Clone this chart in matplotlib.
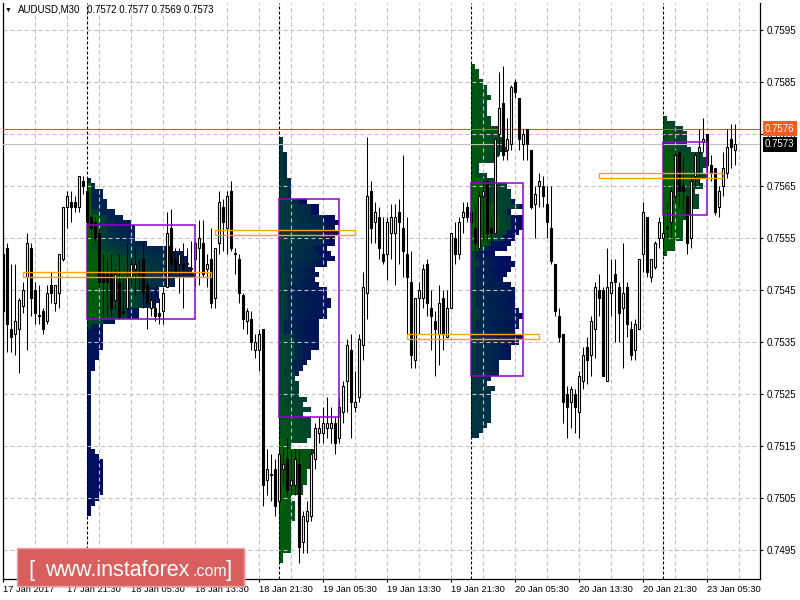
import matplotlib
matplotlib.use('Agg')
import matplotlib.pyplot as plt
import matplotlib.transforms as mtransforms
import numpy as np
from matplotlib.colors import LinearSegmentedColormap
from matplotlib.patches import Rectangle

plt.rcParams['font.family'] = ['Liberation Sans', 'DejaVu Sans']

SYMBOL = 'AUDUSD,M30'
LAST_OHLC = '0.7572 0.7577 0.7569 0.7573'
PIP = 0.0001
BID = 0.7573
ASK = 0.7576

# M30 bars, first one is 17 Jan 13:30
open_ = [
    0.75520, 0.75530, 0.75375, 0.75365, 0.75375, 0.75420, 0.75475, 0.75530,
    0.75450, 0.75400, 0.75410, 0.75390, 0.75460, 0.75425, 0.75445, 0.75510,
    0.75610, 0.75620, 0.75620, 0.75610, 0.75660, 0.75640, 0.75590, 0.75580,
    0.75560, 0.75480, 0.75480, 0.75480, 0.75430, 0.75465, 0.75410, 0.75415,
    0.75475, 0.75490, 0.75480, 0.75510, 0.75460, 0.75415, 0.75415, 0.75405,
    0.75410, 0.75455, 0.75570, 0.75510, 0.75500, 0.75500, 0.75500, 0.75490,
    0.75510, 0.75530, 0.75540, 0.75490, 0.75510, 0.75435, 0.75540, 0.75610,
    0.75570, 0.75640, 0.75520, 0.75510, 0.75440, 0.75390, 0.75395, 0.75335,
    0.75335, 0.75375, 0.75085, 0.75095, 0.75105, 0.75045, 0.75105, 0.75125,
    0.75075, 0.75075, 0.75115, 0.74965, 0.75005, 0.75015, 0.75125, 0.75175,
    0.75175, 0.75185, 0.75185, 0.75195, 0.75165, 0.75215, 0.75275, 0.75335,
    0.75225, 0.75245, 0.75345, 0.75445, 0.75640, 0.75580, 0.75590, 0.75520,
    0.75520, 0.75560, 0.75560, 0.75600, 0.75570, 0.75520, 0.75465, 0.75315,
    0.75435, 0.75435, 0.75500, 0.75415, 0.75390, 0.75365, 0.75435, 0.75360,
    0.75415, 0.75550, 0.75520, 0.75590, 0.75610, 0.75600, 0.75570, 0.75530,
    0.75630, 0.75660, 0.75570, 0.75560, 0.75750, 0.75810, 0.75720, 0.75730,
    0.75850, 0.75820, 0.75730, 0.75760, 0.75720, 0.75615, 0.75650, 0.75650,
    0.75615, 0.75570, 0.75500, 0.75400, 0.75365, 0.75250, 0.75235, 0.75250,
    0.75215, 0.75275, 0.75340, 0.75325, 0.75375, 0.75450, 0.75450, 0.75275,
    0.75445, 0.75480, 0.75455, 0.75415, 0.75455, 0.75375, 0.75335, 0.75375,
    0.75520, 0.75590, 0.75475, 0.75495, 0.75550, 0.75550, 0.75570, 0.75580,
    0.75630, 0.75715, 0.75650, 0.75630, 0.75550, 0.75670, 0.75715, 0.75735,
    0.75750, 0.75690, 0.75685, 0.75610, 0.75650, 0.75675, 0.75740, 0.75720,
]
high_ = [
    0.75570, 0.75540, 0.75500, 0.75500, 0.75435, 0.75465, 0.75560, 0.75540,
    0.75465, 0.75460, 0.75415, 0.75460, 0.75485, 0.75460, 0.75520, 0.75610,
    0.75640, 0.75640, 0.75630, 0.75670, 0.75670, 0.75655, 0.75595, 0.75590,
    0.75570, 0.75520, 0.75510, 0.75520, 0.75490, 0.75520, 0.75480, 0.75540,
    0.75510, 0.75530, 0.75510, 0.75540, 0.75470, 0.75445, 0.75455, 0.75435,
    0.75455, 0.75600, 0.75605, 0.75530, 0.75530, 0.75540, 0.75530, 0.75545,
    0.75545, 0.75585, 0.75585, 0.75520, 0.75570, 0.75530, 0.75640, 0.75625,
    0.75640, 0.75660, 0.75530, 0.75520, 0.75445, 0.75415, 0.75410, 0.75365,
    0.75375, 0.75375, 0.75145, 0.75135, 0.75125, 0.75145, 0.75145, 0.75165,
    0.75145, 0.75145, 0.75145, 0.75025, 0.75045, 0.75145, 0.75195, 0.75205,
    0.75225, 0.75245, 0.75225, 0.75205, 0.75245, 0.75275, 0.75355, 0.75365,
    0.75295, 0.75365, 0.75485, 0.75745, 0.75660, 0.75620, 0.75610, 0.75590,
    0.75590, 0.75615, 0.75615, 0.75625, 0.75710, 0.75590, 0.75525, 0.75435,
    0.75465, 0.75500, 0.75510, 0.75450, 0.75410, 0.75460, 0.75450, 0.75450,
    0.75560, 0.75580, 0.75590, 0.75620, 0.75620, 0.75610, 0.75615, 0.75640,
    0.75665, 0.75660, 0.75590, 0.75740, 0.75870, 0.75880, 0.75780, 0.75845,
    0.75855, 0.75820, 0.75760, 0.75760, 0.75720, 0.75650, 0.75675, 0.75670,
    0.75650, 0.75650, 0.75500, 0.75415, 0.75365, 0.75265, 0.75265, 0.75260,
    0.75295, 0.75340, 0.75360, 0.75400, 0.75465, 0.75480, 0.75455, 0.75530,
    0.75510, 0.75510, 0.75465, 0.75540, 0.75465, 0.75390, 0.75395, 0.75510,
    0.75620, 0.75590, 0.75510, 0.75545, 0.75590, 0.75610, 0.75620, 0.75650,
    0.75720, 0.75715, 0.75705, 0.75630, 0.75670, 0.75715, 0.75760, 0.75780,
    0.75750, 0.75710, 0.75685, 0.75650, 0.75715, 0.75760, 0.75770, 0.75770,
]
low_ = [
    0.75380, 0.75330, 0.75330, 0.75325, 0.75290, 0.75405, 0.75335, 0.75400,
    0.75385, 0.75385, 0.75365, 0.75385, 0.75425, 0.75410, 0.75415, 0.75505,
    0.75570, 0.75580, 0.75600, 0.75600, 0.75635, 0.75575, 0.75550, 0.75545,
    0.75455, 0.75400, 0.75400, 0.75400, 0.75415, 0.75395, 0.75400, 0.75415,
    0.75460, 0.75440, 0.75450, 0.75415, 0.75375, 0.75400, 0.75390, 0.75385,
    0.75385, 0.75455, 0.75480, 0.75480, 0.75445, 0.75415, 0.75480, 0.75480,
    0.75455, 0.75460, 0.75475, 0.75455, 0.75415, 0.75415, 0.75520, 0.75525,
    0.75520, 0.75525, 0.75480, 0.75425, 0.75375, 0.75365, 0.75335, 0.75320,
    0.75295, 0.75035, 0.75055, 0.75045, 0.75015, 0.75025, 0.75075, 0.75055,
    0.75055, 0.75055, 0.74925, 0.74945, 0.74945, 0.75005, 0.75105, 0.75155,
    0.75155, 0.75165, 0.75155, 0.75135, 0.75155, 0.75195, 0.75215, 0.75165,
    0.75215, 0.75235, 0.75315, 0.75395, 0.75540, 0.75540, 0.75510, 0.75500,
    0.75470, 0.75510, 0.75460, 0.75500, 0.75475, 0.75365, 0.75300, 0.75300,
    0.75365, 0.75415, 0.75400, 0.75335, 0.75285, 0.75305, 0.75335, 0.75360,
    0.75415, 0.75500, 0.75510, 0.75560, 0.75580, 0.75570, 0.75525, 0.75525,
    0.75540, 0.75545, 0.75535, 0.75560, 0.75710, 0.75700, 0.75700, 0.75720,
    0.75820, 0.75720, 0.75700, 0.75700, 0.75605, 0.75550, 0.75610, 0.75610,
    0.75550, 0.75500, 0.75400, 0.75350, 0.75195, 0.75165, 0.75185, 0.75175,
    0.75165, 0.75260, 0.75270, 0.75285, 0.75320, 0.75400, 0.75285, 0.75275,
    0.75400, 0.75350, 0.75350, 0.75300, 0.75360, 0.75315, 0.75315, 0.75375,
    0.75485, 0.75475, 0.75465, 0.75490, 0.75530, 0.75530, 0.75550, 0.75550,
    0.75620, 0.75610, 0.75605, 0.75520, 0.75530, 0.75650, 0.75650, 0.75715,
    0.75665, 0.75660, 0.75595, 0.75590, 0.75630, 0.75665, 0.75685, 0.75690,
]
close_ = [
    0.75410, 0.75385, 0.75360, 0.75390, 0.75430, 0.75450, 0.75540, 0.75435,
    0.75405, 0.75400, 0.75375, 0.75445, 0.75445, 0.75460, 0.75520, 0.75610,
    0.75630, 0.75610, 0.75610, 0.75670, 0.75650, 0.75580, 0.75570, 0.75550,
    0.75465, 0.75465, 0.75465, 0.75415, 0.75480, 0.75400, 0.75405, 0.75475,
    0.75500, 0.75500, 0.75480, 0.75445, 0.75425, 0.75430, 0.75400, 0.75400,
    0.75445, 0.75560, 0.75500, 0.75485, 0.75520, 0.75490, 0.75500, 0.75490,
    0.75540, 0.75550, 0.75480, 0.75500, 0.75425, 0.75530, 0.75620, 0.75580,
    0.75630, 0.75530, 0.75520, 0.75445, 0.75395, 0.75410, 0.75350, 0.75350,
    0.75365, 0.75075, 0.75105, 0.75095, 0.75035, 0.75135, 0.75115, 0.75065,
    0.75085, 0.75125, 0.74955, 0.75015, 0.75025, 0.75135, 0.75185, 0.75185,
    0.75195, 0.75195, 0.75195, 0.75155, 0.75225, 0.75265, 0.75345, 0.75235,
    0.75235, 0.75355, 0.75455, 0.75630, 0.75570, 0.75600, 0.75530, 0.75505,
    0.75580, 0.75590, 0.75590, 0.75580, 0.75525, 0.75475, 0.75325, 0.75435,
    0.75450, 0.75490, 0.75425, 0.75400, 0.75375, 0.75425, 0.75365, 0.75415,
    0.75560, 0.75520, 0.75580, 0.75600, 0.75590, 0.75580, 0.75540, 0.75630,
    0.75640, 0.75560, 0.75560, 0.75740, 0.75800, 0.75710, 0.75740, 0.75840,
    0.75830, 0.75740, 0.75750, 0.75730, 0.75610, 0.75635, 0.75660, 0.75630,
    0.75580, 0.75505, 0.75410, 0.75360, 0.75235, 0.75225, 0.75260, 0.75225,
    0.75285, 0.75325, 0.75315, 0.75390, 0.75455, 0.75435, 0.75285, 0.75455,
    0.75465, 0.75465, 0.75405, 0.75445, 0.75385, 0.75325, 0.75385, 0.75510,
    0.75600, 0.75485, 0.75510, 0.75540, 0.75580, 0.75560, 0.75570, 0.75640,
    0.75710, 0.75640, 0.75640, 0.75540, 0.75660, 0.75710, 0.75725, 0.75740,
    0.75690, 0.75675, 0.75600, 0.75640, 0.75685, 0.75725, 0.75725, 0.75730,
]

day_starts = [21, 69, 117, 165]  # bar index of 00:00 for each session
DAY_BARS = 48

time_labels = ['17 Jan 2017', '17 Jan 21:30', '18 Jan 05:30', '18 Jan 13:30',
               '18 Jan 21:30', '19 Jan 05:30', '19 Jan 13:30', '19 Jan 21:30',
               '20 Jan 05:30', '20 Jan 13:30', '20 Jan 21:30', '23 Jan 05:30']
price_ticks = [0.7495, 0.7505, 0.7515, 0.7525, 0.7535, 0.7545,
               0.7555, 0.7565, 0.7575, 0.7585, 0.7595]

o = np.array(open_)
h = np.array(high_)
l = np.array(low_)
c = np.array(close_)
n = len(c)
xs = np.arange(n)

profile_cmap = LinearSegmentedColormap.from_list('tpo', ['#006400', '#00373f', '#000a60'])


def tpo_profile(s, e):
    # integer pips so the range test is exact
    hi_p = np.round(h[s:e] * 1e5).astype(int)
    lo_p = np.round(l[s:e] * 1e5).astype(int)
    levels = np.arange(int(np.floor(lo_p.min() / 10.0)), int(np.ceil(hi_p.max() / 10.0)) + 1)
    rows = []
    for lev in levels:
        p = lev * 10
        rows.append([s + k for k in range(e - s) if lo_p[k] <= p <= hi_p[k]])
    return levels * PIP, rows


def value_area(counts):
    poc = int(np.argmax(counts))
    total = counts.sum()
    a = b = poc
    va = counts[poc]
    while va < 0.7 * total:
        up = counts[b + 1] if b + 1 < len(counts) else -1
        dn = counts[a - 1] if a > 0 else -1
        if up < 0 and dn < 0:
            break
        if up >= dn:
            b += 1
            va += up
        else:
            a -= 1
            va += dn
    return poc, a, b


fig = plt.figure(figsize=(8, 6), dpi=100)
ax = fig.add_axes([3 / 800, 21 / 600, 757 / 800, 576 / 600])
ax.set_xlim(0, 189.25)
ax.set_ylim(0.748942, 0.760019)

# market profile per session
for s in day_starts:
    e = min(s + DAY_BARS, n)
    levels, rows = tpo_profile(s, e)
    ys, lefts, cols = [], [], []
    for lev, bars in zip(levels, rows):
        for j, k in enumerate(bars):
            ys.append(lev)
            lefts.append(s + j)
            cols.append(profile_cmap((k - s) / (DAY_BARS - 1)))
    ax.barh(ys, 1.0, left=lefts, height=PIP, color=cols, linewidth=0,
            antialiased=False, zorder=1)
    counts = np.array([len(b) for b in rows])
    poc, a, b = value_area(counts)
    width = counts.max()
    ax.add_patch(Rectangle((s, levels[a] - PIP / 2), width, levels[b] - levels[a] + PIP,
                           fill=False, edgecolor='#9400d3', linewidth=1.1, zorder=6))
    ax.add_patch(Rectangle((s - 16, levels[poc] - PIP / 2), 16 + width + 4, PIP,
                           fill=False, edgecolor='#ffa500', linewidth=1.0, zorder=6))

# grid
for gx in range(0, n + 8, 8):
    ax.axvline(gx, color='#c0c0c0', linewidth=0.8, linestyle=(0, (3.6, 2.7)), zorder=2)
for gy in price_ticks:
    ax.axhline(gy, color='#c0c0c0', linewidth=0.8, linestyle=(0, (3.6, 2.7)), zorder=2)
for s in day_starts:
    ax.axvline(s, color='black', linewidth=0.8, linestyle=(0, (2.7, 1.8)), zorder=2.6)

# bid / ask
ax.axhline(ASK, color='#f0501e', linewidth=0.8, zorder=2.7)
ax.axhline(BID, color='#c0c0c0', linewidth=0.8, zorder=2.7)

# candles
ax.vlines(xs, l, h, color='black', linewidth=0.75, zorder=3)
body_lo = np.minimum(o, c)
body_h = np.maximum(np.abs(c - o), 0.00002)
body_col = ['white' if cc >= oo else 'black' for oo, cc in zip(o, c)]
ax.bar(xs, body_h, bottom=body_lo, width=0.68, color=body_col, edgecolor='black',
       linewidth=0.8, zorder=4)

# axes
ax.spines['top'].set_visible(False)
for side in ['left', 'right', 'bottom']:
    ax.spines[side].set_color('black')
    ax.spines[side].set_linewidth(0.9)
ax.yaxis.tick_right()
ax.set_yticks(price_ticks)
ax.set_yticklabels(['%.4f' % p for p in price_ticks])
ax.set_xticks(range(0, 16 * len(time_labels), 16))
ax.set_xticklabels(time_labels, ha='left')
ax.tick_params(axis='y', length=2.5, width=0.8, pad=2.5, labelsize=7, colors='black')
ax.tick_params(axis='x', length=2.5, width=0.8, pad=1.5, labelsize=6.7, colors='black')

right_tr = mtransforms.blended_transform_factory(ax.transAxes, ax.transData)
right_tr = mtransforms.offset_copy(right_tr, fig=fig, x=5, y=0, units='dots')
for price, bg in [(ASK, '#ff5a1e'), (BID, 'black')]:
    ax.text(1.0, price, '%.4f' % price, transform=right_tr, ha='left', va='center',
            fontsize=7, color='white', zorder=20, clip_on=False,
            bbox=dict(boxstyle='square,pad=0.25', fc=bg, ec='none'))

# header and watermark in figure pixels
ov = fig.add_axes([0, 0, 1, 1], zorder=10)
ov.set_xlim(0, 800)
ov.set_ylim(600, 0)
ov.axis('off')
ov.text(5, 10, '▼', fontsize=5, va='center', ha='left', color='black')
ov.text(18, 10, SYMBOL, fontsize=7, va='center', ha='left', color='black')
ov.text(87, 10, LAST_OHLC, fontsize=7, va='center', ha='left', color='black')

ov.add_patch(Rectangle((19, 550), 227, 38, facecolor='#a0a0a0', alpha=0.45, edgecolor='none'))
ov.add_patch(Rectangle((17, 548), 227, 38, facecolor='#d95f5f', edgecolor='#eba0a0',
                       linewidth=1.0))
ov.text(28, 576, '[', fontsize=16, color='white', va='baseline', ha='left')
ov.text(45, 576, 'www.instaforex', fontsize=15.5, color='white', va='baseline', ha='left')
ov.text(192, 576, '.com', fontsize=11.5, color='white', va='baseline', ha='left')
ov.text(226, 576, ']', fontsize=16, color='white', va='baseline', ha='left')

fig.savefig('out.png', dpi=100)
